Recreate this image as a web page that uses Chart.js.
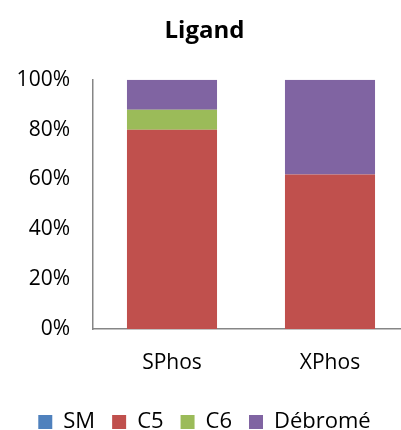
<!DOCTYPE html>
<html>
<head>
<meta charset="utf-8">
<script src="https://cdn.jsdelivr.net/npm/chart.js@4.4.1/dist/chart.umd.min.js"></script>
<style>
  html, body { margin: 0; padding: 0; overflow: hidden; background: #fff; }
  #wrap { width: 430px; height: 430px; position: relative; }
</style>
</head>
<body>
<div id="wrap"><canvas id="grafico"></canvas></div>
<script>
// Datos del gráfico
const categorias = ['SPhos', 'XPhos'];
const series = ['SM', 'C5', 'C6', 'Débromé'];
const valoresSM = [0, 0];
const valoresC5 = [80, 62];
const valoresC6 = [8, 0];
const valoresDebrome = [12, 38];
const ticksY = [0, 20, 40, 60, 80, 100];
const colores = ['#4F81BD', '#C0504D', '#9BBB59', '#8064A2'];

const fuente = "'Open Sans', sans-serif";
const valores = [valoresSM, valoresC5, valoresC6, valoresDebrome];

const ctx = document.getElementById('grafico').getContext('2d');
new Chart(ctx, {
    type: 'bar',
    data: {
        labels: categorias,
        datasets: series.map((nombre, i) => ({
            label: nombre,
            data: valores[i],
            backgroundColor: colores[i],
            borderWidth: 0,
            categoryPercentage: 1,
            barPercentage: 0.57
        }))
    },
    options: {
        responsive: true,
        maintainAspectRatio: false,
        animation: false,
        layout: { padding: { left: 0, right: 21, top: 0, bottom: -13 } },
        scales: {
            x: {
                stacked: true,
                grid: { display: false, drawTicks: false },
                border: { color: '#868686', width: 1.5 },
                ticks: { color: '#000', font: { family: fuente, size: 21 }, padding: 21 },
                afterFit: (scale) => { scale.height = 65; }
            },
            y: {
                stacked: true,
                min: 0,
                max: 100,
                afterBuildTicks: (scale) => { scale.ticks = ticksY.map(v => ({ value: v })); },
                afterFit: (scale) => { scale.width = 93; },
                grid: { display: false, drawTicks: true, tickLength: 7, tickColor: '#868686', tickWidth: 1.5 },
                border: { color: '#868686', width: 1.5 },
                ticks: {
                    color: '#000',
                    font: { family: fuente, size: 21 },
                    padding: 16,
                    callback: (v) => v + '%'
                }
            }
        },
        plugins: {
            title: {
                display: true,
                text: 'Ligand',
                color: '#000',
                font: { family: fuente, size: 24, weight: 'bold' },
                padding: { top: 17, bottom: 34 }
            },
            legend: {
                position: 'bottom',
                labels: {
                    color: '#000',
                    font: { family: fuente, size: 22 },
                    boxWidth: 14,
                    boxHeight: 14,
                    padding: 17
                }
            },
            tooltip: { enabled: false }
        }
    }
});
</script>
</body>
</html>
